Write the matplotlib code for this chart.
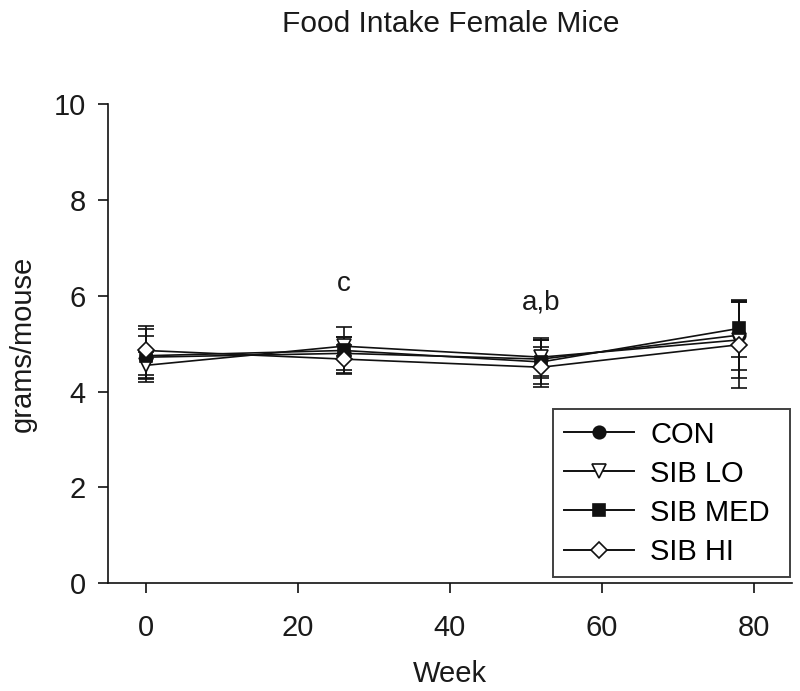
import matplotlib
matplotlib.use("Agg")
import matplotlib.pyplot as plt
from matplotlib.lines import Line2D

plt.rcParams['font.family'] = ['Liberation Sans', 'DejaVu Sans']

weeks = [0, 26, 52, 78]
series_names = ["CON", "SIB LO", "SIB MED", "SIB HI"]
con = [4.72, 4.80, 4.68, 5.18]
con_err = [0.45, 0.35, 0.40, 0.72]
sib_lo = [4.55, 4.95, 4.72, 5.08]
sib_lo_err = [0.27, 0.20, 0.40, 0.80]
sib_med = [4.75, 4.86, 4.62, 5.32]
sib_med_err = [0.55, 0.50, 0.45, 0.60]
sib_hi = [4.86, 4.68, 4.51, 4.98]
sib_hi_err = [0.52, 0.30, 0.42, 0.90]
annotations = [(26, 6.25, "c"), (52, 5.87, "a,b")]

fig = plt.figure(figsize=(8, 6.91), dpi=100)
ax = fig.add_axes([0.135, 0.156, 0.855, 0.693])

col = "#111111"
tcol = "#1a1a1a"
styles = [
    (con, con_err, dict(marker="o", mfc=col, mec=col, ms=9)),
    (sib_lo, sib_lo_err, dict(marker="v", mfc="white", mec=col, ms=10)),
    (sib_med, sib_med_err, dict(marker="s", mfc=col, mec=col, ms=8.5)),
    (sib_hi, sib_hi_err, dict(marker="D", mfc="white", mec=col, ms=8.5)),
]
handles = []
for name, (vals, errs, st) in zip(series_names, styles):
    ax.errorbar(weeks, vals, yerr=errs, color=col, lw=1.2, elinewidth=1.2,
                capsize=5.5, capthick=1.2, mew=1.2, **st)
    handles.append(Line2D([], [], color=col, lw=1.4, mew=1.2, label=name, **st))

for x, y, t in annotations:
    ax.text(x, y, t, ha="center", va="center", fontsize=20, color=tcol)

ax.set_xlim(-5, 85)
ax.set_ylim(0, 10)
ax.set_xticks([0, 20, 40, 60, 80])
ax.set_yticks([0, 2, 4, 6, 8, 10])
ax.spines['top'].set_visible(False)
ax.spines['right'].set_visible(False)
for s in ['left', 'bottom']:
    ax.spines[s].set_color(col)
    ax.spines[s].set_linewidth(1.2)
ax.tick_params(direction='out', length=7, width=1.2, colors=col, labelsize=21, pad=9,
               labelcolor=tcol)
ax.tick_params(axis='x', pad=15)
ax.set_xlabel("Week", fontsize=21, labelpad=13, color=tcol)
ax.set_ylabel("grams/mouse", fontsize=21, labelpad=12, color=tcol)
fig.suptitle("Food Intake Female Mice", fontsize=21.5, y=0.985, x=0.563, color=tcol)

leg = ax.legend(handles=handles, loc="lower left",
                bbox_to_anchor=(0.65, 0.012, 0.347, 0.357),
                mode="expand", fontsize=21, frameon=True, fancybox=False,
                edgecolor=col, handlelength=2.4, borderpad=0.4, labelspacing=0.38,
                handletextpad=0.55, borderaxespad=0)
leg.get_frame().set_linewidth(1.4)

fig.savefig("out.png", dpi=100)
